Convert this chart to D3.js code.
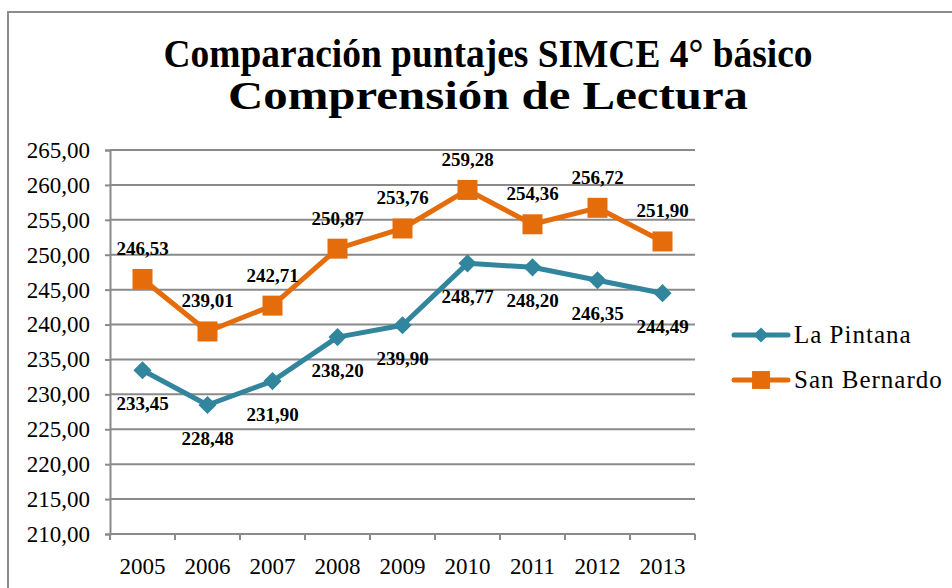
<!DOCTYPE html>
<html>
<head>
<meta charset="utf-8">
<script src="https://cdn.jsdelivr.net/npm/d3@7"></script>
</head>
<body style="margin:0; background:#fff;">
<div id="chart"></div>
<script>
// Chart data.
var years = ["2005", "2006", "2007", "2008", "2009", "2010", "2011", "2012", "2013"];
var laPintana = [233.45, 228.48, 231.90, 238.20, 239.90, 248.77, 248.20, 246.35, 244.49];
var sanBernardo = [246.53, 239.01, 242.71, 250.87, 253.76, 259.28, 254.36, 256.72, 251.90];
var seriesNames = ["La Pintana", "San Bernardo"];
var yTicks = [210, 215, 220, 225, 230, 235, 240, 245, 250, 255, 260, 265];
var titleLines = ["Comparación puntajes SIMCE 4° básico", "Comprensión de Lectura"];

var width = 952, height = 588;
var plot = { left: 110, right: 695, top: 150, bottom: 534 };
var colors = { "La Pintana": "#31859C", "San Bernardo": "#E46C0A" };
var serif = "'Liberation Serif', 'Times New Roman', serif";
var fmt = function(v) { return d3.format(".2f")(v).replace(".", ","); };

var svg = d3.select("#chart").append("svg")
    .attr("width", width)
    .attr("height", height)
    .attr("font-family", serif);

// Outer chart frame (runs off the right and bottom edge of the picture).
svg.append("rect")
    .attr("x", 8).attr("y", 12)
    .attr("width", 960).attr("height", 600)
    .style("fill", "none")
    .style("stroke", "#8c8c8c")
    .style("stroke-width", 2);

// Title: second line is drawn wider in the original
var titleWidths = [649, 520];
svg.selectAll(".title")
    .data(titleLines)
    .enter().append("text")
    .attr("class", "title")
    .attr("x", 488)
    .attr("y", function(d, i) { return 67 + i * 42; })
    .attr("text-anchor", "middle")
    .attr("textLength", function(d, i) { return titleWidths[i]; })
    .attr("lengthAdjust", "spacingAndGlyphs")
    .style("font-family", serif)
    .style("font-size", "40px")
    .style("font-weight", "bold")
    .text(function(d) { return d; });

var x = d3.scaleBand()
    .domain(years)
    .range([plot.left, plot.right]);

var y = d3.scaleLinear()
    .domain([210, 265])
    .range([plot.bottom, plot.top]);

// Horizontal gridlines
svg.append("g")
    .selectAll("line")
    .data(yTicks.slice(1))
    .enter().append("line")
    .attr("x1", plot.left).attr("x2", plot.right)
    .attr("y1", function(d) { return y(d); })
    .attr("y2", function(d) { return y(d); })
    .style("stroke", "#8a8a8a")
    .style("stroke-width", 2);

// Y axis
var yAxis = svg.append("g")
    .attr("transform", "translate(" + plot.left + ",0)")
    .call(d3.axisLeft(y).tickValues(yTicks).tickFormat(fmt).tickSize(5).tickPadding(15));
yAxis.attr("font-family", serif);
yAxis.select(".domain").style("stroke", "#8a8a8a").style("stroke-width", 2);
yAxis.selectAll(".tick line").style("stroke", "#8a8a8a").style("stroke-width", 2);
yAxis.selectAll("text")
    .style("font-family", serif)
    .style("font-size", "23px")
    .style("fill", "#000");

// X axis, ticks between categories
var xAxis = svg.append("g")
    .attr("transform", "translate(0," + plot.bottom + ")");
xAxis.append("line")
    .attr("x1", plot.left).attr("x2", plot.right)
    .style("stroke", "#8a8a8a").style("stroke-width", 2);
xAxis.selectAll(".xtick")
    .data(years.concat([null]))
    .enter().append("line")
    .attr("class", "xtick")
    .attr("x1", function(d, i) { return plot.left + i * x.step(); })
    .attr("x2", function(d, i) { return plot.left + i * x.step(); })
    .attr("y1", 0).attr("y2", 6)
    .style("stroke", "#8a8a8a").style("stroke-width", 2);
xAxis.selectAll(".xlabel")
    .data(years)
    .enter().append("text")
    .attr("class", "xlabel")
    .attr("x", function(d) { return x(d) + x.bandwidth() / 2; })
    .attr("y", 40)
    .attr("text-anchor", "middle")
    .style("font-family", serif)
    .style("font-size", "23px")
    .text(function(d) { return d; });

var line = d3.line()
    .x(function(d, i) { return x(years[i]) + x.bandwidth() / 2; })
    .y(function(d) { return y(d); });

// diamond = square turned 45 degrees
var series = [
  { name: seriesNames[0], values: laPintana, size: 165, legendSize: 115, rotate: 45, labelDy: 40 },
  { name: seriesNames[1], values: sanBernardo, size: 400, legendSize: 320, rotate: 0, labelDy: -24 }
];

series.forEach(function(s) {
  var g = svg.append("g");
  g.append("path")
      .attr("d", line(s.values))
      .style("fill", "none")
      .style("stroke", colors[s.name])
      .style("stroke-width", 5)
      .style("stroke-linejoin", "round");
  g.selectAll(".marker")
      .data(s.values)
      .enter().append("path")
      .attr("class", "marker")
      .attr("d", d3.symbol().type(d3.symbolSquare).size(s.size))
      .attr("transform", function(d, i) {
        return "translate(" + (x(years[i]) + x.bandwidth() / 2) + "," + y(d) + ") rotate(" + s.rotate + ")";
      })
      .style("fill", colors[s.name]);
  g.selectAll(".dlabel")
      .data(s.values)
      .enter().append("text")
      .attr("class", "dlabel")
      .attr("x", function(d, i) { return x(years[i]) + x.bandwidth() / 2; })
      .attr("y", function(d) { return y(d) + s.labelDy; })
      .attr("text-anchor", "middle")
      .style("font-family", serif)
      .style("font-size", "19px")
      .style("font-weight", "bold")
      .text(fmt);
});

// Legend
var legend = svg.selectAll(".legend")
    .data(series)
    .enter().append("g")
    .attr("class", "legend")
    .attr("transform", function(d, i) { return "translate(734," + (335 + i * 45) + ")"; });
legend.append("line")
    .attr("x1", 0).attr("x2", 54)
    .style("stroke", function(d) { return colors[d.name]; })
    .style("stroke-width", 5)
    .style("stroke-linecap", "round");
legend.append("path")
    .attr("d", function(d) { return d3.symbol().type(d3.symbolSquare).size(d.legendSize)(); })
    .attr("transform", function(d) { return "translate(27,0) rotate(" + d.rotate + ")"; })
    .style("fill", function(d) { return colors[d.name]; });
legend.append("text")
    .attr("x", 60)
    .attr("y", 8)
    .style("font-family", serif)
    .style("font-size", "25px")
    .style("letter-spacing", "1px")
    .text(function(d) { return d.name; });
</script>
</body>
</html>
